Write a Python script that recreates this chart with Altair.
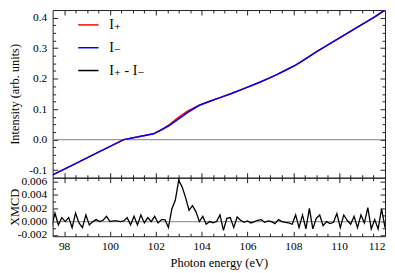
import altair as alt
import pandas as pd

FONT = "Liberation Serif, DejaVu Serif, serif"

LBL_P = "I\u208a"
LBL_M = "I\u208b"
LBL_D = "I\u208a - I\u208b"

# ---- top panel: intensities ----
E_TOP = [97.5, 98.5, 99.5, 100.6, 101.3, 101.9, 102.3, 102.6, 103.0, 103.4, 103.9,
         104.3, 104.8, 105.3, 105.9, 106.4, 106.9, 107.3, 107.7, 108.1, 108.4, 108.7,
         109.0, 109.4, 109.8, 110.4, 111.0, 111.5, 112.0]
I_MINUS = [-0.116, -0.079, -0.041, 0.000, 0.010, 0.019, 0.034, 0.047, 0.068, 0.089, 0.1125,
           0.124, 0.1375, 0.151, 0.169, 0.184, 0.200, 0.214, 0.229, 0.2445, 0.258, 0.273,
           0.288, 0.306, 0.324, 0.351, 0.378, 0.400, 0.425]
I_PLUS = [-0.116, -0.079, -0.041, 0.000, 0.010, 0.019, 0.035, 0.049, 0.074, 0.094, 0.113,
          0.124, 0.1375, 0.151, 0.169, 0.184, 0.200, 0.214, 0.229, 0.2445, 0.258, 0.273,
          0.288, 0.306, 0.324, 0.351, 0.378, 0.400, 0.425]

# ---- bottom panel: XMCD ----
XMCD_E = [97.45, 97.60, 97.75, 97.90, 98.05, 98.20, 98.35, 98.50, 98.65, 98.80,
          98.95, 99.10, 99.25, 99.40, 99.55, 99.70, 99.85, 100.00, 100.15, 100.30,
          100.45, 100.60, 100.75, 100.90, 101.05, 101.20, 101.35, 101.50, 101.65, 101.80,
          101.95, 102.10, 102.25, 102.40, 102.55, 102.70, 102.85, 103.00, 103.15, 103.30,
          103.45, 103.60, 103.75, 103.90, 104.05, 104.20, 104.35, 104.50, 104.65, 104.80,
          104.95, 105.10, 105.25, 105.40, 105.55, 105.70, 105.85, 106.00, 106.15, 106.30,
          106.45, 106.60, 106.75, 106.90, 107.05, 107.20, 107.35, 107.50, 107.65, 107.80,
          107.95, 108.10, 108.25, 108.40, 108.55, 108.70, 108.85, 109.00, 109.15, 109.30,
          109.45, 109.60, 109.75, 109.90, 110.05, 110.20, 110.35, 110.50, 110.65, 110.80,
          110.95, 111.10, 111.25, 111.40, 111.55, 111.70, 111.85, 112.00]
XMCD = [-0.0009, 0.0013, -0.0005, 0.0006, 0.0000, 0.0006, -0.0009, 0.0013, -0.0002, -0.0009,
        0.0010, -0.0005, 0.0000, 0.0003, 0.0000, 0.0002, 0.0008, 0.0000, 0.0001, 0.0001,
        0.0000, 0.0001, 0.0006, -0.0005, 0.0008, -0.0005, 0.0010, -0.0002, 0.0006, 0.0000,
        0.0008, -0.0002, 0.0003, 0.0003, -0.0009, 0.0019, 0.0032, 0.0062, 0.0052, 0.0036,
        0.0017, 0.0024, 0.0015, 0.0000, 0.0008, -0.0004, 0.0000, -0.0002, 0.0000, 0.0010,
        -0.0013, 0.0005, 0.0006, -0.0009, 0.0007, 0.0002, -0.0001, 0.0001, -0.0002, 0.0000,
        0.0002, 0.0003, -0.0001, 0.0001, 0.0000, -0.0003, 0.0003, 0.0000, -0.0001, -0.0002,
        -0.0004, 0.0010, -0.0009, 0.0010, -0.0011, 0.0020, -0.0011, 0.0005, 0.0010, -0.0006,
        0.0000, -0.0003, -0.0001, 0.0012, -0.0009, 0.0010, 0.0002, -0.0004, 0.0008, -0.0009,
        0.0010, -0.0002, 0.0021, -0.0011, 0.0003, -0.0011, 0.0019, -0.0009]

X_LABELS = [98, 100, 102, 104, 106, 108, 110, 112]
X_MINOR = [98.0, 98.5, 99.0, 99.5, 100.0, 100.5, 101.0, 101.5, 102.0, 102.5, 103.0, 103.5,
           104.0, 104.5, 105.0, 105.5, 106.0, 106.5, 107.0, 107.5, 108.0, 108.5, 109.0,
           109.5, 110.0, 110.5, 111.0, 111.5]
Y1_LABELS = [-0.1, 0.0, 0.1, 0.2, 0.3, 0.4]
Y1_MINOR = [-0.1, -0.075, -0.05, -0.025, 0.0, 0.025, 0.05, 0.075, 0.1, 0.125, 0.15, 0.175,
            0.2, 0.225, 0.25, 0.275, 0.3, 0.325, 0.35, 0.375, 0.4]
Y2_LABELS = [-0.002, 0.0, 0.002, 0.004, 0.006]
Y2_MINOR = [-0.002, -0.001, 0.0, 0.001, 0.002, 0.003, 0.004, 0.005, 0.006]

W, H1, H2 = 335, 169, 59

top_df = pd.DataFrame({
    "E": E_TOP + E_TOP,
    "I": I_PLUS + I_MINUS,
    "series": [LBL_P] * len(E_TOP) + [LBL_M] * len(E_TOP),
})
xmcd_df = pd.DataFrame({"E": XMCD_E, "v": XMCD})
zero_df = pd.DataFrame({"z": [0.0]})

xscale = alt.Scale(domain=[97.5, 112], nice=False, zero=False)
y1scale = alt.Scale(domain=[-0.125, 0.425], nice=False, zero=False)
y2scale = alt.Scale(domain=[-0.0022, 0.0066], nice=False, zero=False)

color_scale = alt.Scale(domain=[LBL_P, LBL_M, LBL_D], range=["#ff0000", "#0000ff", "#000000"])
legend = alt.Legend(orient="none", legendX=25, legendY=4, title=None,
                    symbolType="stroke", symbolStrokeWidth=1.5, symbolSize=420,
                    labelFont=FONT, labelFontSize=14, labelColor="black",
                    rowPadding=5, labelOffset=10)

X_TEST = "datum.value % 2 === 0"
Y1_TEST = "abs(datum.value * 10 - round(datum.value * 10)) < 0.001"
Y2_TEST = "abs(datum.value * 500 - round(datum.value * 500)) < 0.001"


def tsize(test):
    return {"condition": {"test": test, "value": 5}, "value": 3}


def tick_layers(df, yfield, yscale, yminor, ytest, H):
    layers = []
    for xo, yo in (("top", "right"), ("bottom", "left")):
        layers.append(
            alt.Chart(df).mark_line(opacity=0).encode(
                x=alt.X("E:Q", scale=xscale, title=None,
                        axis=alt.Axis(orient=xo, offset=-H, values=X_MINOR, labels=False,
                                      domain=False, grid=False, tickSize=tsize(X_TEST),
                                      tickColor="#222", tickWidth=1)),
                y=alt.Y(yfield, scale=yscale, title=None,
                        axis=alt.Axis(orient=yo, offset=-W, values=yminor, labels=False,
                                      domain=False, grid=False, tickSize=tsize(ytest),
                                      tickColor="#222", tickWidth=1)),
            )
        )
    return layers


# ---- top panel ----
y1_axis = alt.Axis(values=Y1_LABELS, ticks=False, tickSize=0, domain=False, grid=False,
                   labelPadding=6,
                   labelExpr="replace(format(datum.value, '.1f'), '\u2212', '-')",
                   titleX=-38, titleY=H1 / 2, titleBaseline="middle", titleAngle=270)

zero_top = alt.Chart(zero_df).mark_rule(color="#9a9a9a", strokeWidth=1.2).encode(
    y=alt.Y("z:Q", scale=y1scale, axis=None))

red = alt.Chart(top_df).transform_filter(alt.datum.series == LBL_P).mark_line(
    strokeWidth=1.5, clip=True).encode(
    x=alt.X("E:Q", scale=xscale, axis=None),
    y=alt.Y("I:Q", scale=y1scale, title="Intensity (arb. units)", axis=y1_axis),
    color=alt.Color("series:N", scale=color_scale, legend=legend),
)
blue = alt.Chart(top_df).transform_filter(alt.datum.series == LBL_M).mark_line(
    strokeWidth=1.5, clip=True).encode(
    x=alt.X("E:Q", scale=xscale, axis=None),
    y=alt.Y("I:Q", scale=y1scale, axis=None),
    color=alt.Color("series:N", scale=color_scale, legend=legend),
)

top = alt.layer(zero_top, red, blue,
                *tick_layers(top_df, "I:Q", y1scale, Y1_MINOR, Y1_TEST, H1)).resolve_axis(
    x="independent", y="independent").properties(width=W, height=H1)

# ---- bottom panel ----
y2_axis = alt.Axis(values=Y2_LABELS, ticks=False, tickSize=0, domain=False, grid=False,
                   labelPadding=6,
                   labelExpr="replace(format(datum.value, '.3f'), '\u2212', '-')",
                   titleX=-38, titleY=H2 / 2, titleBaseline="middle", titleAngle=270)
x_axis = alt.Axis(values=X_LABELS, format="d", ticks=False, tickSize=0, domain=False,
                  grid=False, labelPadding=4, titlePadding=5)

zero_bot = alt.Chart(zero_df).mark_rule(color="#9a9a9a", strokeWidth=1.2).encode(
    y=alt.Y("z:Q", scale=y2scale, axis=None))

xmcd_line = alt.Chart(xmcd_df).mark_line(strokeWidth=1.3, color="black", clip=True).encode(
    x=alt.X("E:Q", scale=xscale, title="Photon energy (eV)", axis=x_axis),
    y=alt.Y("v:Q", scale=y2scale, title="XMCD", axis=y2_axis),
)

bottom = alt.layer(zero_bot, xmcd_line,
                   *tick_layers(xmcd_df, "v:Q", y2scale, Y2_MINOR, Y2_TEST, H2)).resolve_axis(
    x="independent", y="independent").properties(width=W, height=H2)

chart = alt.vconcat(top, bottom, spacing=0, bounds="flush").properties(
    padding={"left": 0, "top": 0, "right": 0, "bottom": 0}
).configure_view(stroke="#222", strokeWidth=1).configure_axis(
    labelFont=FONT, titleFont=FONT, labelFontSize=11.5, titleFontSize=12.5,
    titleFontWeight="normal", labelColor="black", titleColor="black",
)

chart.save("out.html", embed_options={"renderer": "svg", "actions": False})
